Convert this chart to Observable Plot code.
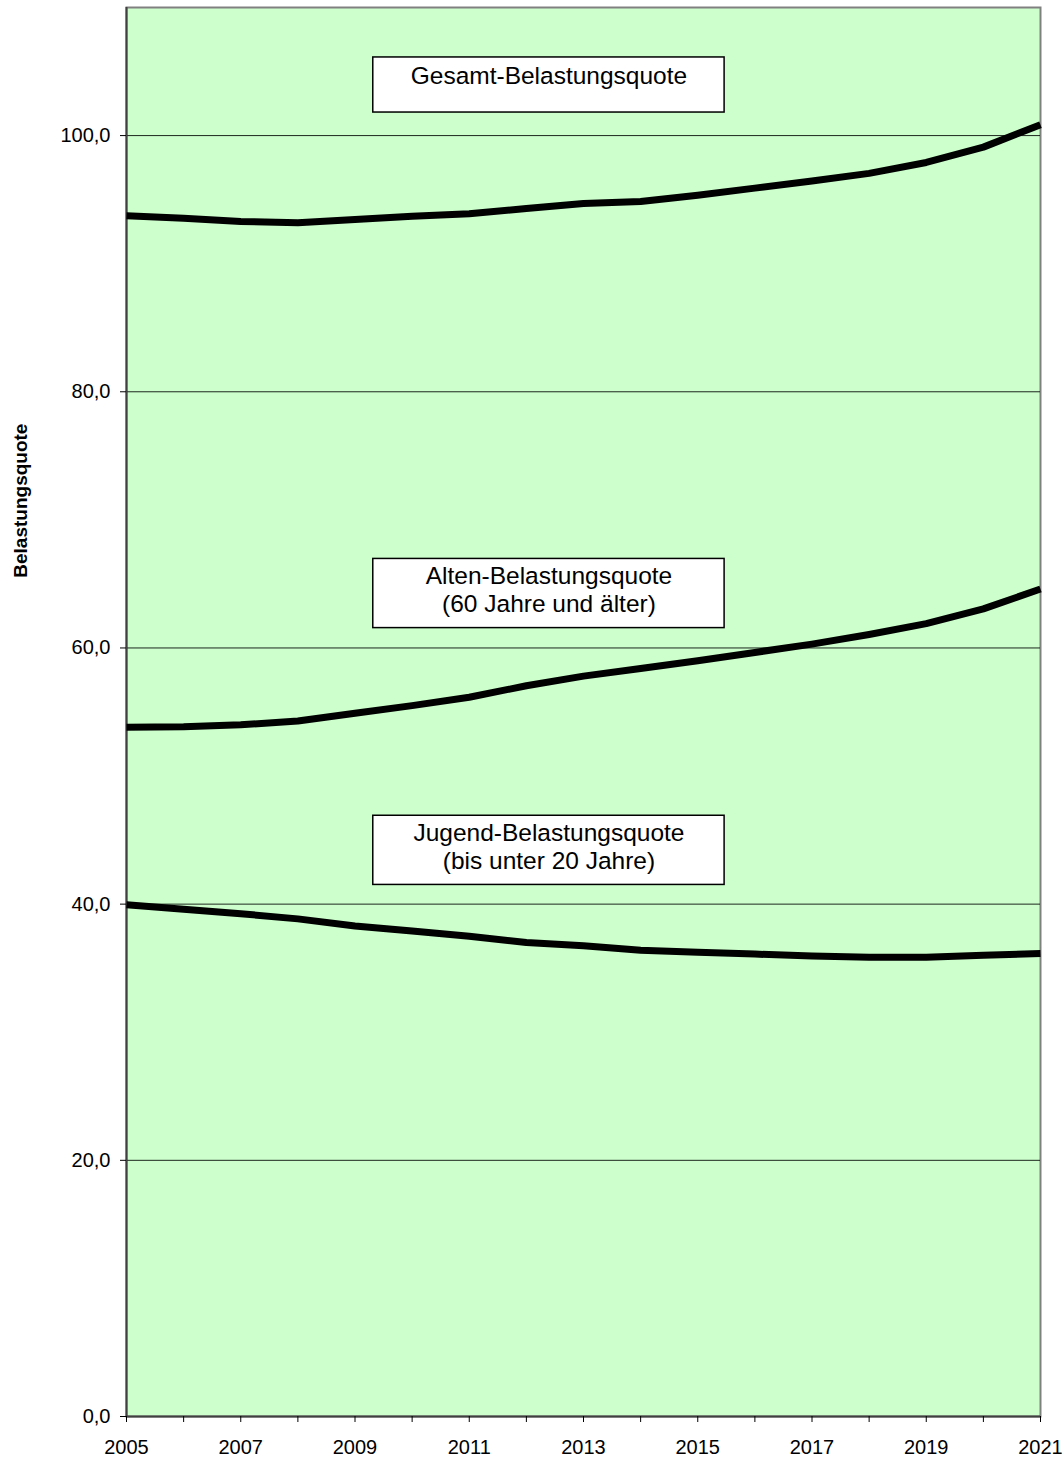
<!DOCTYPE html>
<html>
<head>
<meta charset="utf-8">
<script src="https://cdn.jsdelivr.net/npm/d3@7"></script>
<script src="https://cdn.jsdelivr.net/npm/@observablehq/plot@0.6"></script>
<style>
  html, body { margin: 0; padding: 0; background: #fff; }
  #chart svg { display: block; }
</style>
</head>
<body>
<div id="chart"></div>
<script>
// ---- Data ----
const years = [2005, 2006, 2007, 2008, 2009, 2010, 2011, 2012, 2013, 2014, 2015, 2016, 2017, 2018, 2019, 2020, 2021];
const gesamt = [93.75, 93.55, 93.3, 93.2, 93.45, 93.7, 93.9, 94.3, 94.7, 94.85, 95.35, 95.9, 96.45, 97.05, 97.9, 99.1, 100.85];
const alten  = [53.8, 53.85, 54.0, 54.3, 54.9, 55.5, 56.15, 57.05, 57.8, 58.4, 59.0, 59.65, 60.3, 61.05, 61.9, 63.05, 64.6];
const jugend = [39.95, 39.6, 39.25, 38.85, 38.3, 37.9, 37.5, 37.0, 36.75, 36.4, 36.25, 36.1, 35.95, 35.85, 35.85, 36.0, 36.15];
const yTicks = [0, 20, 40, 60, 80, 100];
const xLabelYears = [2005, 2007, 2009, 2011, 2013, 2015, 2017, 2019, 2021];
const yTitle = "Belastungsquote";

// annotation boxes (label texts)
const boxLabels = [
  {text: "Gesamt-Belastungsquote", x1: 2009.32, x2: 2015.47, y1: 101.8, y2: 106.1, ty: 104.7},
  {text: "Alten-Belastungsquote\n(60 Jahre und älter)", x1: 2009.32, x2: 2015.47, y1: 61.55, y2: 66.95, ty: 64.6},
  {text: "Jugend-Belastungsquote\n(bis unter 20 Jahre)", x1: 2009.32, x2: 2015.47, y1: 41.5, y2: 46.9, ty: 44.55}
];

const series = [
  {name: "Gesamt", values: gesamt},
  {name: "Alten", values: alten},
  {name: "Jugend", values: jugend}
];
const rows = series.flatMap(s => years.map((yr, i) => ({series: s.name, year: yr, value: s.values[i]})));

const fmt = d => d3.format(".1f")(d).replace(".", ",");

const chart = Plot.plot({
  width: 1064,
  height: 1461,
  marginLeft: 126,
  marginRight: 24,
  marginTop: 7,
  marginBottom: 45,
  style: {fontFamily: "'Liberation Sans', Arial, sans-serif", fontSize: "20px", color: "#000", background: "#fff"},
  x: {domain: [2005, 2021], label: null},
  y: {domain: [0, 110], label: null},
  marks: [
    Plot.frame({fill: "#CCFFCC", stroke: "#808080", strokeWidth: 2}),
    Plot.ruleY(yTicks.filter(d => d > 0), {stroke: "#000", strokeWidth: 1, strokeOpacity: 0.85}),
    Plot.ruleX([2005], {stroke: "#404040", strokeWidth: 2}),
    Plot.ruleY([0], {stroke: "#404040", strokeWidth: 2}),
    Plot.axisY({ticks: yTicks, tickFormat: fmt, tickSize: 6, tickPadding: 10, stroke: "#000", fontSize: 20, label: null}),
    Plot.axisX({ticks: years, tickFormat: d => xLabelYears.includes(d) ? String(d) : "", tickSize: 6, tickPadding: 17, stroke: "#000", fontSize: 20, label: null}),
    Plot.line(rows, {x: "year", y: "value", z: "series", stroke: "#000", strokeWidth: 7, strokeLinejoin: "round", strokeLinecap: "butt"}),
    Plot.rect(boxLabels, {x1: "x1", x2: "x2", y1: "y1", y2: "y2", fill: "#fff", stroke: "#000", strokeWidth: 1.5}),
    Plot.text(boxLabels, {x: d => (d.x1 + d.x2) / 2, y: "ty", text: "text", fontSize: 24.5, lineHeight: 1.15, fill: "#000", lineAnchor: "middle"}),
    Plot.text([yTitle], {frameAnchor: "left", y: [71.5], dx: -106, rotate: -90, textAnchor: "middle", fontSize: 19, fontWeight: "bold", fill: "#000"})
  ]
});
document.getElementById("chart").appendChild(chart);
</script>
</body>
</html>
